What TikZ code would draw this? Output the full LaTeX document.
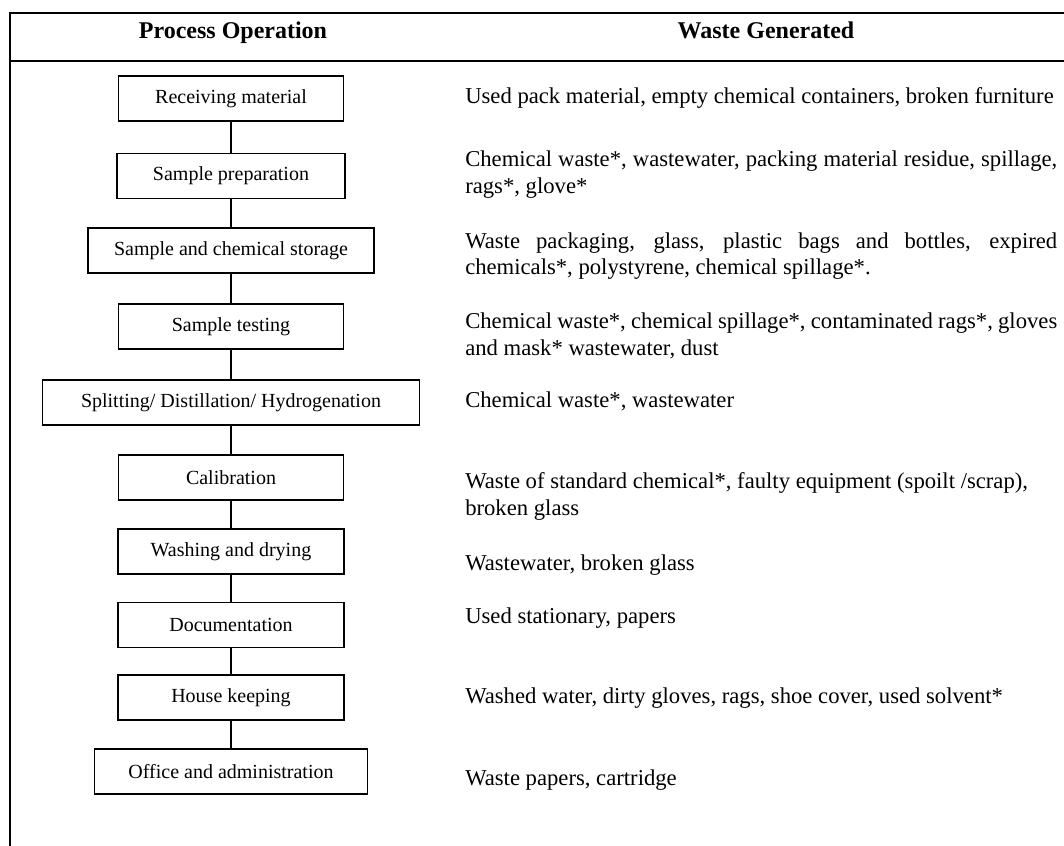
\documentclass[tikz,border=0pt]{standalone}
\usepackage{fontspec}
\setmainfont{Liberation Serif}
\newcommand{\jline}[1]{\makebox[444pt][s]{#1}}
\begin{document}
\begin{tikzpicture}[x=0.75pt,y=-0.75pt,
  procbox/.style={draw, line width=1.1pt, minimum height=33.75pt, inner sep=2pt, font=\fontsize{15}{18}\selectfont},
  waste/.style={anchor=base west, inner sep=0pt, font=\fontsize{17}{20}\selectfont},
  head/.style={anchor=base, inner sep=0pt, font=\fontsize{18}{21}\selectfont\bfseries},
  frame/.style={line width=1.2pt},
  link/.style={line width=1.1pt}]
\useasboundingbox (0,0) rectangle (1064,846);
% table frame
\draw[frame] (10,846) -- (10,13) -- (1064,13);
\draw[frame] (10,61) -- (1064,61);
% headers
\node[head] (h1) at (233,38) {Process Operation};
\node[head] (h2) at (766,38) {Waste Generated};
% process boxes
\node[procbox, minimum width=168.75pt] (r1) at (231,98.5) {Receiving material};
\node[procbox, minimum width=171pt] (r2) at (231,176) {Sample preparation};
\node[procbox, minimum width=214.5pt] (r3) at (231,250.5) {Sample and chemical storage};
\node[procbox, minimum width=168.75pt] (r4) at (231,326.5) {Sample testing};
\node[procbox, minimum width=282.75pt] (r5) at (231,402.5) {Splitting/ Distillation/ Hydrogenation};
\node[procbox, minimum width=168.75pt] (r6) at (231,477.5) {Calibration};
\node[procbox, minimum width=169.5pt] (r7) at (231,551.5) {Washing and drying};
\node[procbox, minimum width=169.5pt] (r8) at (231,625) {Documentation};
\node[procbox, minimum width=169.5pt] (r9) at (231,697.5) {House keeping};
\node[procbox, minimum width=204.75pt] (r10) at (231,771.5) {Office and administration};
% connectors
\foreach \a/\b in {r1/r2,r2/r3,r3/r4,r4/r5,r5/r6,r6/r7,r7/r8,r8/r9,r9/r10}
  \draw[link] (\a.south) -- (\b.north);
% waste generated
\node[waste] (w1) at (465,103) {Used pack material, empty chemical containers, broken furniture};
\node[waste] (w2a) at (465,166) {\jline{Chemical waste*, wastewater, packing material residue, spillage,}};
\node[waste] (w2b) at (465,193) {rags*, glove*};
\node[waste] (w3a) at (465,248) {\jline{Waste packaging, glass, plastic bags and bottles, expired}};
\node[waste] (w3b) at (465,274) {chemicals*, polystyrene, chemical spillage*.};
\node[waste] (w4a) at (465,328) {\jline{Chemical waste*, chemical spillage*, contaminated rags*, gloves}};
\node[waste] (w4b) at (465,355) {and mask* wastewater, dust};
\node[waste] (w5) at (465,407) {Chemical waste*, wastewater};
\node[waste] (w6a) at (465,488) {Waste of standard chemical*, faulty equipment (spoilt /scrap),};
\node[waste] (w6b) at (465,515) {broken glass};
\node[waste] (w7) at (465,570) {Wastewater, broken glass};
\node[waste] (w8) at (465,623) {Used stationary, papers};
\node[waste] (w9) at (465,703) {Washed water, dirty gloves, rags, shoe cover, used solvent*};
\node[waste] (w10) at (465,785) {Waste papers, cartridge};
\end{tikzpicture}
\end{document}
